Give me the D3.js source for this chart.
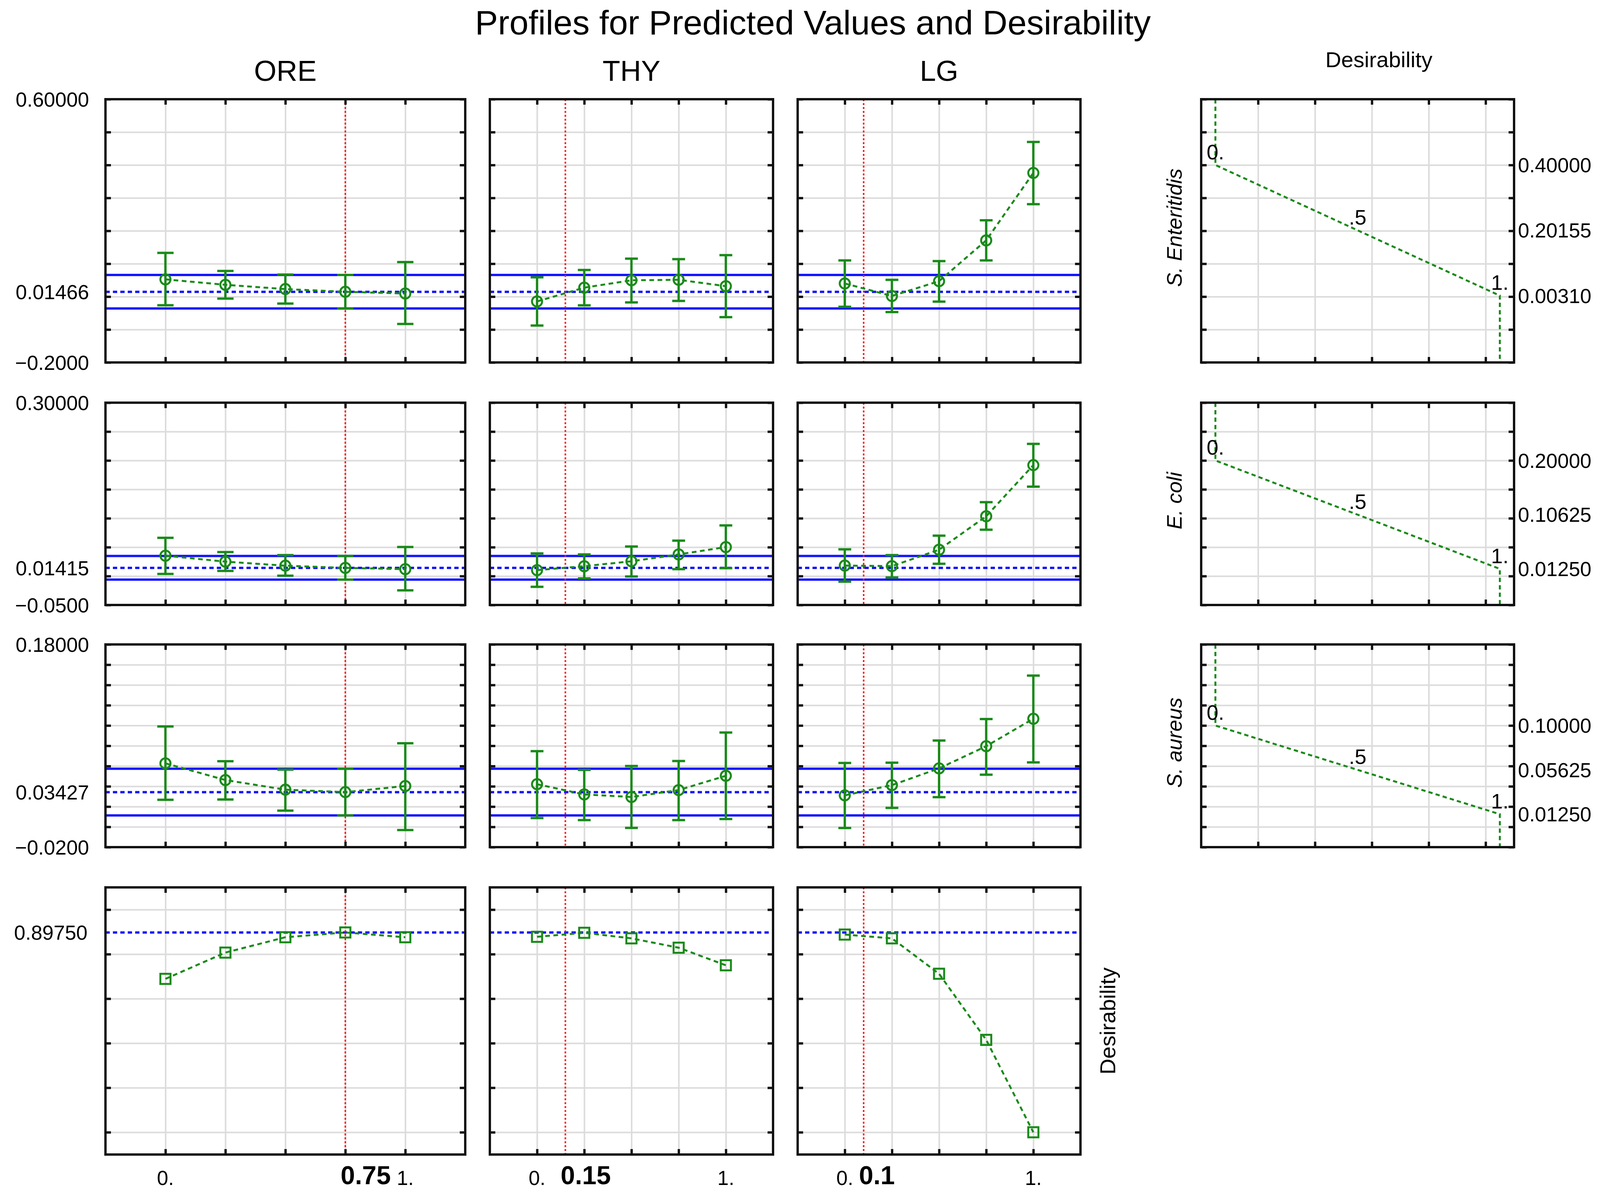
<!DOCTYPE html>
<html>
<head>
<meta charset="utf-8">
<script src="https://cdn.jsdelivr.net/npm/d3@7"></script>
<style>
  body { margin: 0; background: #fff; }
  text { font-family: "Liberation Sans", Arial, sans-serif; fill: #000; }
</style>
</head>
<body>
<div id="chart"></div>
<script>
// ---- data ----
const factors = ["ORE", "THY", "LG"];
const levels = [0, 0.25, 0.5, 0.75, 1];
const currentLevel = [0.75, 0.15, 0.1];
const currentLevelLabels = ["0.75", "0.15", "0.1"];
const levelEndLabels = ["0.", "1."];

const responses = ["S. Enteritidis", "E. coli", "S. aureus"];
const yMinByResponse = [-0.2, -0.05, -0.02];
const yMaxByResponse = [0.6, 0.30, 0.18];
const yStepByResponse = [0.1, 0.05, 0.02];
const yMinLabels = ["\u22120.2000", "\u22120.0500", "\u22120.0200"];
const yMaxLabels = ["0.60000", "0.30000", "0.18000"];
const predicted = [0.01466, 0.01415, 0.03427];
const predictedLabels = ["0.01466", "0.01415", "0.03427"];
const ciUpper = [0.066, 0.0348, 0.0574];
const ciLower = [-0.036, -0.006, 0.0113];

// [response][factor][level]
const profileMean = [
  [[0.0525, 0.036, 0.023, 0.0147, 0.0095],
   [-0.0146, 0.0273, 0.0497, 0.0512, 0.0318],
   [0.040, 0.002, 0.047, 0.171, 0.376]],
  [[0.0353, 0.025, 0.018, 0.0142, 0.012],
   [0.0103, 0.0171, 0.0256, 0.0375, 0.0502],
   [0.0182, 0.0172, 0.0456, 0.1035, 0.192]],
  [[0.0627, 0.0462, 0.0367, 0.0343, 0.0403],
   [0.0421, 0.032, 0.0295, 0.0363, 0.0504],
   [0.0311, 0.0412, 0.0577, 0.0796, 0.1067]]
];
const profileLow = [
  [[-0.026, -0.006, -0.021, -0.036, -0.083],
   [-0.0878, -0.0265, -0.0176, -0.013, -0.0624],
   [-0.031, -0.047, -0.015, 0.110, 0.281]],
  [[0.0038, 0.009, 0.0007, -0.006, -0.0247],
   [-0.0186, -0.0041, -0.0007, 0.012, 0.0137],
   [-0.0097, -0.0024, 0.0213, 0.0803, 0.1547]],
  [[0.0267, 0.027, 0.016, 0.0113, -0.0031],
   [0.0087, 0.0067, -0.001, 0.0067, 0.0077],
   [-0.0011, 0.0187, 0.0293, 0.0515, 0.0636]]
];
const profileHigh = [
  [[0.133, 0.078, 0.067, 0.066, 0.105],
   [0.0587, 0.0811, 0.1155, 0.114, 0.126],
   [0.110, 0.051, 0.108, 0.232, 0.470]],
  [[0.0663, 0.0415, 0.0364, 0.0348, 0.0503],
   [0.0392, 0.0375, 0.0511, 0.0613, 0.0876],
   [0.0462, 0.0364, 0.070, 0.1278, 0.2287]],
  [[0.0991, 0.0648, 0.0565, 0.0574, 0.0825],
   [0.0747, 0.0562, 0.0601, 0.065, 0.0931],
   [0.063, 0.0633, 0.0852, 0.1064, 0.1493]]
];

// overall desirability profile [factor][level]
const desirabilityProfile = [
  [0.689, 0.807, 0.876, 0.8975, 0.876],
  [0.878, 0.896, 0.871, 0.829, 0.750],
  [0.888, 0.871, 0.712, 0.415, 0.0]
];
const desirabilityCurrent = 0.8975;
const desirabilityCurrentLabel = "0.89750";

// desirability functions per response
const desValues = [0, 0.5, 1];
const desPointLabels = ["0.", ".5", "1."];
const desResponse = [
  [0.4, 0.20155, 0.0031],
  [0.2, 0.10625, 0.0125],
  [0.1, 0.05625, 0.0125]
];
const desResponseLabels = [
  ["0.40000", "0.20155", "0.00310"],
  ["0.20000", "0.10625", "0.01250"],
  ["0.10000", "0.05625", "0.01250"]
];

// ---- layout ----
const width = 4100;
const height = 3075;
const colX = [[270, 1191], [1254, 1979], [2042, 2766]];
const desX = [3075, 3876];
const rowY = [[254, 928], [1031, 1549], [1650, 2169], [2272, 2956]];

const green = "#1a8a1a";
const blue = "#1414ff";
const red = "#ff1a1a";
const gridColor = "#dcdcdc";
const tickLen = 14;

const svg = d3.select("#chart").append("svg")
  .attr("width", width)
  .attr("height", height)
  .attr("viewBox", `0 0 ${width} ${height}`);

svg.append("rect").attr("width", width).attr("height", height).attr("fill", "#fff");

// grid lines for one panel
function drawGrid(g, x, y, xTicks, yTicks) {
  const [x0, x1] = x.range();
  const [y1, y0] = y.range();
  g.append("g")
    .attr("transform", `translate(${x0},0)`)
    .call(d3.axisLeft(y).tickValues(yTicks).tickSize(-(x1 - x0)).tickFormat(""))
    .call(a => a.select(".domain").remove())
    .call(a => a.selectAll("line").attr("stroke", gridColor).attr("stroke-width", 4));
  g.append("g")
    .attr("transform", `translate(0,${y1})`)
    .call(d3.axisBottom(x).tickValues(xTicks).tickSize(-(y1 - y0)).tickFormat(""))
    .call(a => a.select(".domain").remove())
    .call(a => a.selectAll("line").attr("stroke", gridColor).attr("stroke-width", 4));
}

// inward ticks on all four sides and the black frame
function drawFrame(g, x, y, xTicks, yTicks) {
  const [x0, x1] = x.range();
  const [y1, y0] = y.range();
  const styleTicks = a => {
    a.select(".domain").remove();
    a.selectAll("line").attr("stroke", "#111").attr("stroke-width", 6);
  };
  g.append("g").attr("transform", `translate(${x0},0)`)
    .call(d3.axisLeft(y).tickValues(yTicks).tickSize(-tickLen).tickFormat("")).call(styleTicks);
  g.append("g").attr("transform", `translate(${x1},0)`)
    .call(d3.axisRight(y).tickValues(yTicks).tickSize(-tickLen).tickFormat("")).call(styleTicks);
  g.append("g").attr("transform", `translate(0,${y0})`)
    .call(d3.axisTop(x).tickValues(xTicks).tickSize(-tickLen).tickFormat("")).call(styleTicks);
  g.append("g").attr("transform", `translate(0,${y1})`)
    .call(d3.axisBottom(x).tickValues(xTicks).tickSize(-tickLen).tickFormat("")).call(styleTicks);
  g.append("rect")
    .attr("x", x0).attr("y", y0)
    .attr("width", x1 - x0).attr("height", y1 - y0)
    .attr("fill", "none").attr("stroke", "#111").attr("stroke-width", 6);
}

function hLine(g, x, yPos, color, dash, w) {
  const [x0, x1] = x.range();
  g.append("line")
    .attr("x1", x0).attr("x2", x1)
    .attr("y1", yPos).attr("y2", yPos)
    .attr("stroke", color).attr("stroke-width", w)
    .attr("stroke-dasharray", dash);
}

const xScales = colX.map(r => d3.scaleLinear().domain([-0.25, 1.25]).range(r));

// ---- titles ----
svg.append("text")
  .attr("x", 2081).attr("y", 88)
  .attr("text-anchor", "middle")
  .attr("font-size", 88)
  .text("Profiles for Predicted Values and Desirability");

factors.forEach((f, j) => {
  svg.append("text")
    .attr("x", (colX[j][0] + colX[j][1]) / 2).attr("y", 207)
    .attr("text-anchor", "middle")
    .attr("font-size", 74)
    .text(f);
});

svg.append("text")
  .attr("x", 3530).attr("y", 172)
  .attr("text-anchor", "middle")
  .attr("font-size", 56)
  .text("Desirability");

// ---- response rows ----
responses.forEach((resp, i) => {
  const y = d3.scaleLinear()
    .domain([yMinByResponse[i], yMaxByResponse[i]])
    .range([rowY[i][1], rowY[i][0]]);
  const step = yStepByResponse[i];
  const yTicks = d3.range(0, Math.round((yMaxByResponse[i] - yMinByResponse[i]) / step) + 1)
    .map(k => yMinByResponse[i] + k * step);

  // left labels
  const labelRows = [
    [yMaxByResponse[i], yMaxLabels[i]],
    [predicted[i], predictedLabels[i]],
    [yMinByResponse[i], yMinLabels[i]]
  ];
  svg.append("g").selectAll("text").data(labelRows).join("text")
    .attr("x", 228).attr("y", d => y(d[0]))
    .attr("dy", "0.36em")
    .attr("text-anchor", "end")
    .attr("font-size", 52)
    .text(d => d[1]);

  factors.forEach((f, j) => {
    const x = xScales[j];
    const g = svg.append("g");
    drawGrid(g, x, y, levels, yTicks);

    hLine(g, x, y(ciUpper[i]), blue, null, 6);
    hLine(g, x, y(ciLower[i]), blue, null, 6);
    hLine(g, x, y(predicted[i]), blue, "11,8", 6);

    g.append("line")
      .attr("x1", x(currentLevel[j])).attr("x2", x(currentLevel[j]))
      .attr("y1", rowY[i][0]).attr("y2", rowY[i][1])
      .attr("stroke", red).attr("stroke-width", 4)
      .attr("stroke-dasharray", "5,5");

    const pts = levels.map((lv, k) => ({
      lv, m: profileMean[i][j][k], lo: profileLow[i][j][k], hi: profileHigh[i][j][k]
    }));

    g.append("path")
      .datum(pts)
      .attr("fill", "none")
      .attr("stroke", green)
      .attr("stroke-width", 5)
      .attr("stroke-dasharray", "12,9")
      .attr("d", d3.line().x(d => x(d.lv)).y(d => y(d.m)));

    const cap = Math.abs(x(0.034) - x(0));
    const bars = g.append("g").selectAll("g").data(pts).join("g")
      .attr("stroke", green).attr("stroke-width", 6).attr("fill", "none");
    bars.append("line")
      .attr("x1", d => x(d.lv)).attr("x2", d => x(d.lv))
      .attr("y1", d => y(d.lo)).attr("y2", d => y(d.hi));
    bars.append("line")
      .attr("x1", d => x(d.lv) - cap).attr("x2", d => x(d.lv) + cap)
      .attr("y1", d => y(d.hi)).attr("y2", d => y(d.hi));
    bars.append("line")
      .attr("x1", d => x(d.lv) - cap).attr("x2", d => x(d.lv) + cap)
      .attr("y1", d => y(d.lo)).attr("y2", d => y(d.lo));
    bars.append("circle")
      .attr("cx", d => x(d.lv)).attr("cy", d => y(d.m))
      .attr("r", 13).attr("stroke-width", 5);

    drawFrame(g, x, y, levels, yTicks);
  });

  // desirability function panel
  const xd = d3.scaleLinear().domain([-0.05, 1.05]).range(desX);
  const desTicks = [0.15, 0.35, 0.55, 0.75, 0.95];
  const gd = svg.append("g");
  drawGrid(gd, xd, y, desTicks, yTicks);

  const fn = [[0, yMaxByResponse[i]]]
    .concat(desValues.map((dv, k) => [dv, desResponse[i][k]]))
    .concat([[1, yMinByResponse[i]]]);
  gd.append("path")
    .datum(fn)
    .attr("fill", "none")
    .attr("stroke", green)
    .attr("stroke-width", 5)
    .attr("stroke-dasharray", "11,8")
    .attr("d", d3.line().x(d => xd(d[0])).y(d => y(d[1])));

  gd.selectAll(".dlab").data(desValues).join("text")
    .attr("x", d => xd(d))
    .attr("y", (d, k) => y(desResponse[i][k]) - 15)
    .attr("text-anchor", "middle")
    .attr("font-size", 54)
    .text((d, k) => desPointLabels[k]);

  drawFrame(gd, xd, y, desTicks, yTicks);

  gd.selectAll(".rlab").data(desResponse[i]).join("text")
    .attr("x", desX[1] + 10)
    .attr("y", d => y(d))
    .attr("dy", "0.36em")
    .attr("font-size", 52)
    .text((d, k) => desResponseLabels[i][k]);

  svg.append("text")
    .attr("transform", `translate(3006,${(rowY[i][0] + rowY[i][1]) / 2 - 8}) rotate(-90)`)
    .attr("dy", "0.36em")
    .attr("text-anchor", "middle")
    .attr("font-size", 54)
    .attr("font-style", "italic")
    .text(resp);
});

// ---- overall desirability row ----
const yD = d3.scaleLinear().domain([-0.1, 1.1]).range([rowY[3][1], rowY[3][0]]);
const dTicks = [0, 0.2, 0.4, 0.6, 0.8, 1.0];

svg.append("text")
  .attr("x", 224).attr("y", yD(desirabilityCurrent))
  .attr("dy", "0.36em")
  .attr("text-anchor", "end")
  .attr("font-size", 52)
  .text(desirabilityCurrentLabel);

factors.forEach((f, j) => {
  const x = xScales[j];
  const g = svg.append("g");
  drawGrid(g, x, yD, levels, dTicks);
  hLine(g, x, yD(desirabilityCurrent), blue, "11,8", 6);

  g.append("line")
    .attr("x1", x(currentLevel[j])).attr("x2", x(currentLevel[j]))
    .attr("y1", rowY[3][0]).attr("y2", rowY[3][1])
    .attr("stroke", red).attr("stroke-width", 4)
    .attr("stroke-dasharray", "5,5");

  const pts = levels.map((lv, k) => ({ lv, d: desirabilityProfile[j][k] }));
  g.append("path")
    .datum(pts)
    .attr("fill", "none")
    .attr("stroke", green)
    .attr("stroke-width", 5)
    .attr("stroke-dasharray", "12,9")
    .attr("d", d3.line().x(d => x(d.lv)).y(d => yD(d.d)));

  g.append("g").selectAll("rect").data(pts).join("rect")
    .attr("x", d => x(d.lv) - 13).attr("y", d => yD(d.d) - 13)
    .attr("width", 26).attr("height", 26)
    .attr("fill", "none").attr("stroke", green).attr("stroke-width", 5);

  drawFrame(g, x, yD, levels, dTicks);

  // x labels
  svg.append("text")
    .attr("x", x(levels[0])).attr("y", 3034)
    .attr("text-anchor", "middle").attr("font-size", 52)
    .text(levelEndLabels[0]);
  svg.append("text")
    .attr("x", x(levels[levels.length - 1])).attr("y", 3034)
    .attr("text-anchor", "middle").attr("font-size", 52)
    .text(levelEndLabels[1]);
  svg.append("text")
    .attr("x", x(currentLevel[j]) - 12).attr("y", 3032)
    .attr("text-anchor", "start").attr("font-size", 66)
    .attr("font-weight", "bold")
    .text(currentLevelLabels[j]);
});

svg.append("text")
  .attr("transform", `translate(2835,${(rowY[3][0] + rowY[3][1]) / 2}) rotate(-90)`)
  .attr("dy", "0.36em")
  .attr("text-anchor", "middle")
  .attr("font-size", 56)
  .text("Desirability");
</script>
</body>
</html>
